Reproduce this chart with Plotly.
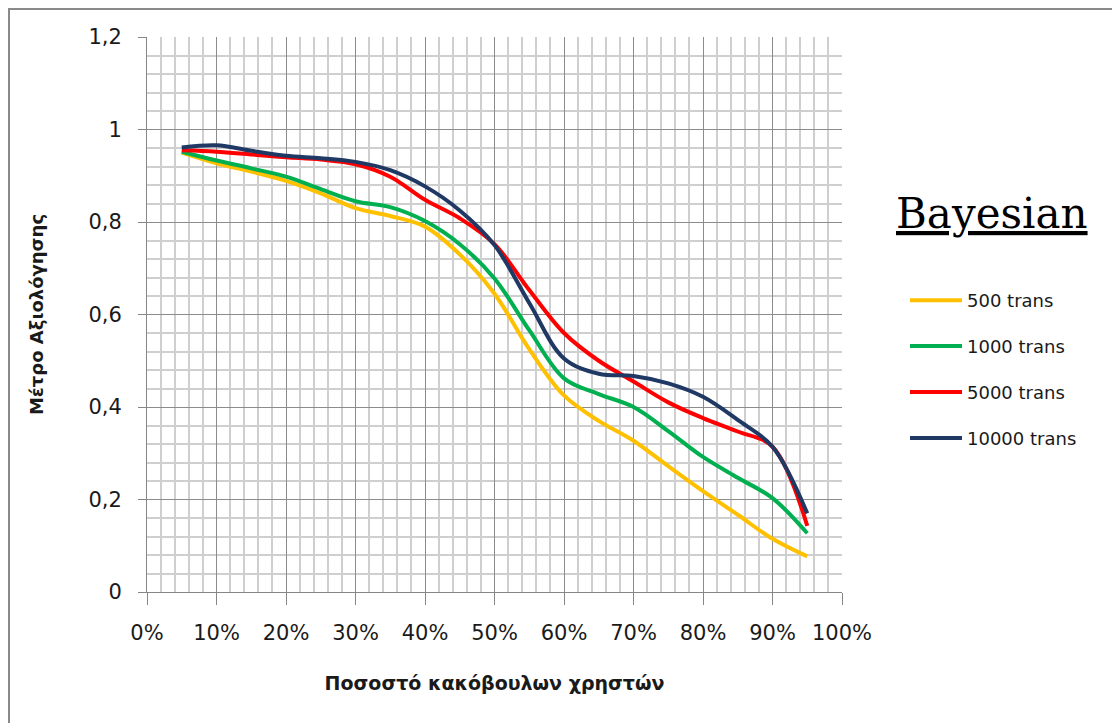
import plotly.graph_objects as go

# Share of malicious users (fraction) and evaluation metric per transaction volume
malicious_share = [0.05, 0.10, 0.15, 0.20, 0.25, 0.30, 0.35, 0.40, 0.45, 0.50,
                   0.55, 0.60, 0.65, 0.70, 0.75, 0.80, 0.85, 0.90, 0.95]

trans_500 = [0.950, 0.927, 0.909, 0.889, 0.862, 0.830, 0.813, 0.790, 0.730, 0.645,
             0.525, 0.425, 0.370, 0.327, 0.272, 0.218, 0.167, 0.115, 0.077]
trans_1000 = [0.952, 0.933, 0.916, 0.898, 0.871, 0.845, 0.832, 0.802, 0.752, 0.678,
              0.566, 0.462, 0.428, 0.400, 0.348, 0.292, 0.247, 0.203, 0.127]
trans_5000 = [0.955, 0.952, 0.946, 0.940, 0.935, 0.925, 0.898, 0.848, 0.808, 0.752,
              0.653, 0.560, 0.500, 0.455, 0.410, 0.376, 0.347, 0.314, 0.143]
trans_10000 = [0.961, 0.966, 0.954, 0.943, 0.938, 0.930, 0.912, 0.877, 0.825, 0.750,
               0.625, 0.505, 0.472, 0.467, 0.451, 0.422, 0.372, 0.314, 0.170]

series_names = ["500 trans", "1000 trans", "5000 trans", "10000 trans"]
series_values = [trans_500, trans_1000, trans_5000, trans_10000]
series_colors = ["#FFC000", "#00B050", "#FF0000", "#1F3864"]

W, H = 1112, 723
L, R, T, B = 147, 270, 37, 131
plot_w = W - L - R
plot_h = H - T - B

sans = "'DejaVu Sans', sans-serif"
text_col = "#1a1a1a"

fig = go.Figure()
for i, (name, vals, col) in enumerate(zip(series_names, series_values, series_colors)):
    fig.add_trace(go.Scatter(
        x=malicious_share, y=vals, name=name, mode="lines",
        line=dict(color=col, width=4, shape="spline", smoothing=1.0),
        legendgroup=f"g{i}",
    ))

def px_x(p):
    return (p - L) / plot_w

def px_y(p):
    return 1 - (p - T) / plot_h

fig.update_layout(
    width=W, height=H,
    margin=dict(l=L, r=R, t=T, b=B),
    paper_bgcolor="white", plot_bgcolor="white",
    separators=",.",
    font=dict(family=sans, color=text_col),
    showlegend=True,
    legend=dict(
        x=px_x(905), y=px_y(282), xanchor="left", yanchor="top",
        font=dict(size=18, family=sans, color=text_col),
        itemwidth=52, tracegroupgap=19.5, bgcolor="rgba(0,0,0,0)",
    ),
    xaxis=dict(
        range=[0, 1], dtick=0.1, tick0=0, tickformat=".0%",
        showgrid=True, gridcolor="#8c8c8c", gridwidth=1,
        minor=dict(dtick=0.02, showgrid=True, gridcolor="#cfcfcf", gridwidth=1.5),
        showline=True, linecolor="#868686", linewidth=1,
        ticks="outside", ticklen=12, tickcolor="#868686",
        tickfont=dict(size=21), ticklabelstandoff=10, zeroline=False,
        title=dict(text="<b>Ποσοστό κακόβουλων χρηστών</b>", font=dict(size=19), standoff=32),
    ),
    yaxis=dict(
        range=[0, 1.2], dtick=0.2, tick0=0,
        showgrid=True, gridcolor="#8c8c8c", gridwidth=1,
        minor=dict(dtick=0.04, showgrid=True, gridcolor="#cfcfcf", gridwidth=1.5),
        showline=True, linecolor="#868686", linewidth=1,
        ticks="outside", ticklen=8, tickcolor="#868686",
        tickfont=dict(size=21), ticklabelstandoff=12, zeroline=False,
        title=dict(text="<b>Μέτρο Αξιολόγησης</b>", font=dict(size=18), standoff=40),
    ),
    annotations=[
        dict(
            text="<u>Bayesian</u>", xref="paper", yref="paper",
            x=px_x(992), y=px_y(213), xanchor="center", yanchor="middle",
            showarrow=False,
            font=dict(family="'DejaVu Serif', serif", size=42, color="#000000"),
        )
    ],
    shapes=[
        dict(type="rect", xref="paper", yref="paper", layer="above",
             x0=px_x(9), y0=px_y(740), x1=px_x(1130), y1=px_y(9),
             line=dict(color="#8a8a8a", width=2), fillcolor="rgba(0,0,0,0)")
    ],
)

fig.write_html("out.html")
